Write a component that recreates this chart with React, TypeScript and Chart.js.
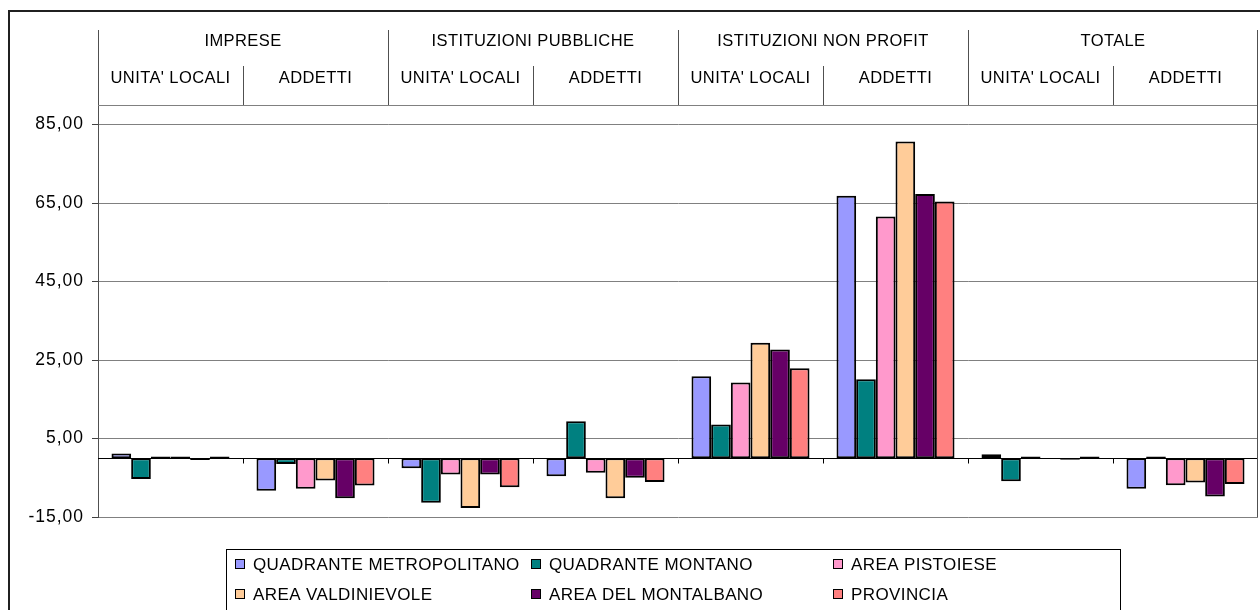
import React, { useEffect, useRef } from 'react';
import { Chart, registerables } from 'chart.js';

Chart.register(...registerables);

// ---- data ----
const categories = [
  'IMPRESE - UNITA\' LOCALI',
  'IMPRESE - ADDETTI',
  'ISTITUZIONI PUBBLICHE - UNITA\' LOCALI',
  'ISTITUZIONI PUBBLICHE - ADDETTI',
  'ISTITUZIONI NON PROFIT - UNITA\' LOCALI',
  'ISTITUZIONI NON PROFIT - ADDETTI',
  'TOTALE - UNITA\' LOCALI',
  'TOTALE - ADDETTI',
];
const groupLabels = ['IMPRESE', 'ISTITUZIONI PUBBLICHE', 'ISTITUZIONI NON PROFIT', 'TOTALE'];
const subLabels = ["UNITA' LOCALI", 'ADDETTI', "UNITA' LOCALI", 'ADDETTI', "UNITA' LOCALI", 'ADDETTI', "UNITA' LOCALI", 'ADDETTI'];

const seriesNames = [
  'QUADRANTE METROPOLITANO',
  'QUADRANTE MONTANO',
  'AREA PISTOIESE',
  'AREA VALDINIEVOLE',
  'AREA DEL MONTALBANO',
  'PROVINCIA',
];
const quadranteMetropolitano = [1.2, -8.3, -2.6, -4.6, 20.9, 66.9, 1.0, -7.8];
const quadranteMontano = [-5.3, -1.5, -11.4, 9.4, 8.6, 20.1, -5.9, 0.4];
const areaPistoiese = [0.4, -7.8, -4.2, -3.7, 19.3, 61.6, 0.4, -6.9];
const areaValdinievole = [0.4, -5.7, -12.7, -10.2, 29.4, 80.7, 0.0, -6.2];
const areaMontalbano = [-0.5, -10.2, -4.2, -5.0, 27.7, 67.3, -0.4, -9.8];
const provincia = [0.4, -7.0, -7.4, -6.1, 22.9, 65.4, 0.4, -6.6];
const seriesValues = [quadranteMetropolitano, quadranteMontano, areaPistoiese, areaValdinievole, areaMontalbano, provincia];
const seriesColors = ['#9999FF', '#008080', '#FF99CC', '#FFCC99', '#660066', '#FF8080'];

const yTicks = [-15, 5, 25, 45, 65, 85];
const yMin = -15;
const yMax = 90;

const FONT = '"Liberation Sans", Arial, sans-serif';

const decorPlugin = {
  id: 'decor',
  beforeDraw(chart: any) {
    const ctx = chart.ctx;
    ctx.save();
    ctx.fillStyle = '#ffffff';
    ctx.fillRect(0, 0, chart.width, chart.height);
    ctx.restore();
    ctx.letterSpacing = '1px';
  },
  beforeDatasetsDraw(chart: any) {
    const { ctx, chartArea, scales } = chart;
    const { left, right } = chartArea;
    const y0 = Math.round(scales.y.getPixelForValue(0)) + 0.5;
    const n = categories.length;
    const w = (right - left) / n;
    ctx.save();
    ctx.strokeStyle = '#000';
    ctx.lineWidth = 1;
    ctx.beginPath();
    ctx.moveTo(left, y0);
    ctx.lineTo(right, y0);
    for (let i = 1; i < n; i++) {
      const xx = Math.round(left + i * w) + 0.5;
      ctx.moveTo(xx, y0);
      ctx.lineTo(xx, y0 + 5);
    }
    ctx.stroke();
    ctx.restore();
  },
  afterDraw(chart: any) {
    const { ctx, chartArea } = chart;
    const { left, right, top, bottom } = chartArea;
    const n = categories.length;
    const w = (right - left) / n;
    const headerTop = 30;
    const subTop = 66;
    ctx.save();
    ctx.letterSpacing = '0px';
    // frame lines
    ctx.lineWidth = 1;
    ctx.strokeStyle = '#808080';
    ctx.beginPath();
    ctx.moveTo(left, Math.round(top) + 0.5);
    ctx.lineTo(right, Math.round(top) + 0.5);
    ctx.stroke();
    ctx.strokeStyle = '#505050';
    ctx.beginPath();
    for (let i = 0; i <= n; i += 2) {
      const xx = Math.round(left + i * w) + 0.5 - (i === n ? 1 : 0);
      ctx.moveTo(xx, headerTop);
      ctx.lineTo(xx, i === n ? bottom : top);
    }
    for (let i = 1; i < n; i += 2) {
      const xx = Math.round(left + i * w) + 0.5;
      ctx.moveTo(xx, subTop);
      ctx.lineTo(xx, top);
    }
    ctx.stroke();
    // header text
    ctx.fillStyle = '#000';
    ctx.textAlign = 'center';
    ctx.textBaseline = 'middle';
    ctx.font = `16.5px ${FONT}`;
    ctx.letterSpacing = '0.4px';
    groupLabels.forEach((g, k) => {
      ctx.fillText(g, left + (2 * k + 1) * w, 41);
    });
    subLabels.forEach((s, i) => {
      ctx.fillText(s, left + (i + 0.5) * w, 78);
    });
    // legend
    ctx.letterSpacing = '0.4px';
    ctx.strokeStyle = '#000';
    ctx.lineWidth = 1;
    ctx.strokeRect(226.5, 549.5, 894, 100);
    const colX = [235, 531, 833];
    const rowY = [564, 594];
    ctx.font = `17px ${FONT}`;
    ctx.textAlign = 'left';
    seriesNames.forEach((name, i) => {
      const cx = colX[i % 3];
      const cy = rowY[Math.floor(i / 3)];
      ctx.fillStyle = seriesColors[i];
      ctx.fillRect(cx, cy - 5, 10, 10);
      ctx.strokeRect(cx + 0.5, cy - 4.5, 9, 9);
      ctx.fillStyle = '#000';
      ctx.fillText(name, cx + 18, cy + 1);
    });
    // outer border
    ctx.lineWidth = 2;
    ctx.strokeStyle = '#202020';
    ctx.strokeRect(9, 11, 1300, 700);
    ctx.restore();
  },
};

export default function App() {
  const canvasRef = useRef<HTMLCanvasElement | null>(null);

  useEffect(() => {
    document.body.style.margin = '0';
    const canvas = canvasRef.current;
    if (!canvas) return;
    const chart = new Chart(canvas, {
      type: 'bar',
      data: {
        labels: categories,
        datasets: seriesNames.map((name, i) => ({
          label: name,
          data: seriesValues[i],
          backgroundColor: seriesColors[i],
          borderColor: '#000000',
          borderWidth: 2,
          borderSkipped: false,
          categoryPercentage: 0.814,
          barPercentage: 1.0,
        })),
      },
      options: {
        responsive: false,
        animation: false,
        devicePixelRatio: 1,
        layout: { padding: { top: 105, right: 2, bottom: 93, left: 0 } },
        plugins: {
          legend: { display: false },
          tooltip: { enabled: false },
        },
        scales: {
          x: { display: false },
          y: {
            min: yMin,
            max: yMax,
            afterBuildTicks: (s: any) => {
              s.ticks = yTicks.map((v) => ({ value: v }));
            },
            afterFit: (s: any) => {
              s.width = 98;
            },
            ticks: {
              color: '#000',
              padding: 8,
              font: { size: 17.5, family: FONT },
              callback: (v: any) => Number(v).toFixed(2).replace('.', ','),
            },
            grid: { color: '#808080', tickLength: 6, tickColor: '#404040', lineWidth: 1 },
            border: { color: '#505050', width: 1 },
          },
        },
      },
      plugins: [decorPlugin],
    });
    return () => chart.destroy();
  }, []);

  return (
    <div style={{ width: 1260, height: 610 }}>
      <canvas ref={canvasRef} width={1260} height={610} style={{ display: 'block' }} />
    </div>
  );
}
